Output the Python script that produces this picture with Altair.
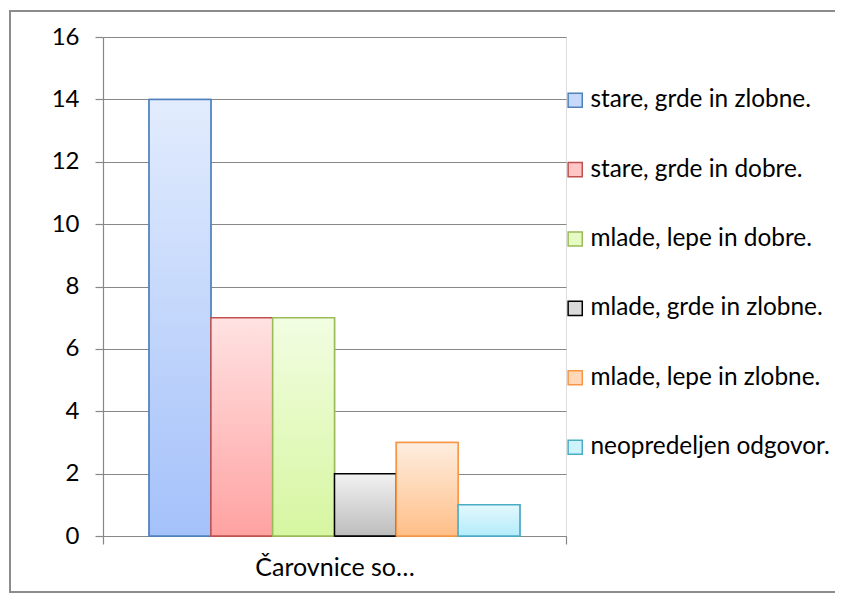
import altair as alt
import pandas as pd

categories = ["Čarovnice so…"]
series = [
    "stare, grde in zlobne.",
    "stare, grde in dobre.",
    "mlade, lepe in dobre.",
    "mlade, grde in zlobne.",
    "mlade, lepe in zlobne.",
    "neopredeljen odgovor.",
]
values = [14, 7, 7, 2, 3, 1]
y_ticks = [0, 2, 4, 6, 8, 10, 12, 14, 16]

stroke_colors = ["#4F81BD", "#C0504D", "#9BBB59", "#000000", "#F79646", "#4BACC6"]
top_colors = ["#E2ECFD", "#FFE2E2", "#F2FDE2", "#F2F2F2", "#FEEEE0", "#E3F8FD"]
bottom_colors = ["#A4C1FA", "#FFA2A2", "#D6F6A0", "#BDBDBD", "#FFBF88", "#B3ECFB"]
mid_colors = ["#C6D9FB", "#FFC6C6", "#E6FAC4", "#DADADA", "#FED8B8", "#CDF3FC"]

df = pd.DataFrame({
    "category": [categories[0]] * len(series),
    "series": series,
    "value": values,
})

FONT = "Lato"
GRID = "#878787"

x_enc = alt.X(
    "category:N",
    scale=alt.Scale(paddingInner=0, paddingOuter=0),
    axis=alt.Axis(
        title=None, labelAngle=0, tickBand="extent", tickSize=8,
        labelPadding=11, labelFont=FONT, labelFontSize=25, labelColor="#000000",
        domainColor=GRID, tickColor=GRID, domainWidth=1.2, tickWidth=1.2,
    ),
)
xoff_enc = alt.XOffset(
    "series:N",
    sort=series,
    scale=alt.Scale(domain=series, paddingInner=0, paddingOuter=0.746),
)
y_enc = alt.Y(
    "value:Q",
    scale=alt.Scale(domain=[0, 16], nice=False),
    axis=alt.Axis(
        title=None, values=y_ticks, tickSize=8, labelPadding=16,
        labelFont=FONT, labelFontSize=24, labelColor="#000000",
        domainColor=GRID, tickColor=GRID, gridColor=GRID, gridWidth=1.2,
        domainWidth=1.2, tickWidth=1.2, grid=True,
    ),
)

legend = alt.Legend(
    title=None, orient="none", legendX=460, legendY=51,
    symbolType="square", symbolSize=200, symbolStrokeWidth=1.5,
    labelFont=FONT, labelFontSize=24.4, labelColor="#000000", labelOffset=3,
    rowPadding=44.4, labelLimit=400,
)

base = alt.Chart(df).mark_bar(strokeWidth=1.5).encode(
    x=x_enc, xOffset=xoff_enc, y=y_enc,
    fill=alt.Fill("series:N", sort=series,
                  scale=alt.Scale(domain=series, range=mid_colors), legend=legend),
    stroke=alt.Stroke("series:N", sort=series,
                      scale=alt.Scale(domain=series, range=stroke_colors), legend=legend),
)

layers = [base]
for s, sc, tc, bc in zip(series, stroke_colors, top_colors, bottom_colors):
    grad = alt.Gradient(
        gradient="linear",
        stops=[alt.GradientStop(offset=0, color=tc), alt.GradientStop(offset=1, color=bc)],
        x1=0, x2=0, y1=0, y2=1,
    )
    layers.append(
        alt.Chart(df).transform_filter(alt.datum.series == s)
        .mark_bar(fill=grad, stroke=sc, strokeWidth=1.5)
        .encode(x=x_enc, xOffset=xoff_enc, y=y_enc)
    )

frame = alt.Chart(df).mark_rect(fill=None, stroke="#8C8C8C", strokeWidth=2).encode(
    x=alt.value(-93), x2=alt.value(780), y=alt.value(-26), y2=alt.value(555),
)

chart = alt.layer(*layers, frame).properties(
    width=463, height=499,
    padding={"left": 95, "top": 29, "right": 269, "bottom": 57},
    autosize=alt.AutoSizeParams(type="none"),
).configure_view(stroke=None).configure(background="#FFFFFF")

chart.save("out.html", embed_options={"renderer": "svg", "actions": False})
